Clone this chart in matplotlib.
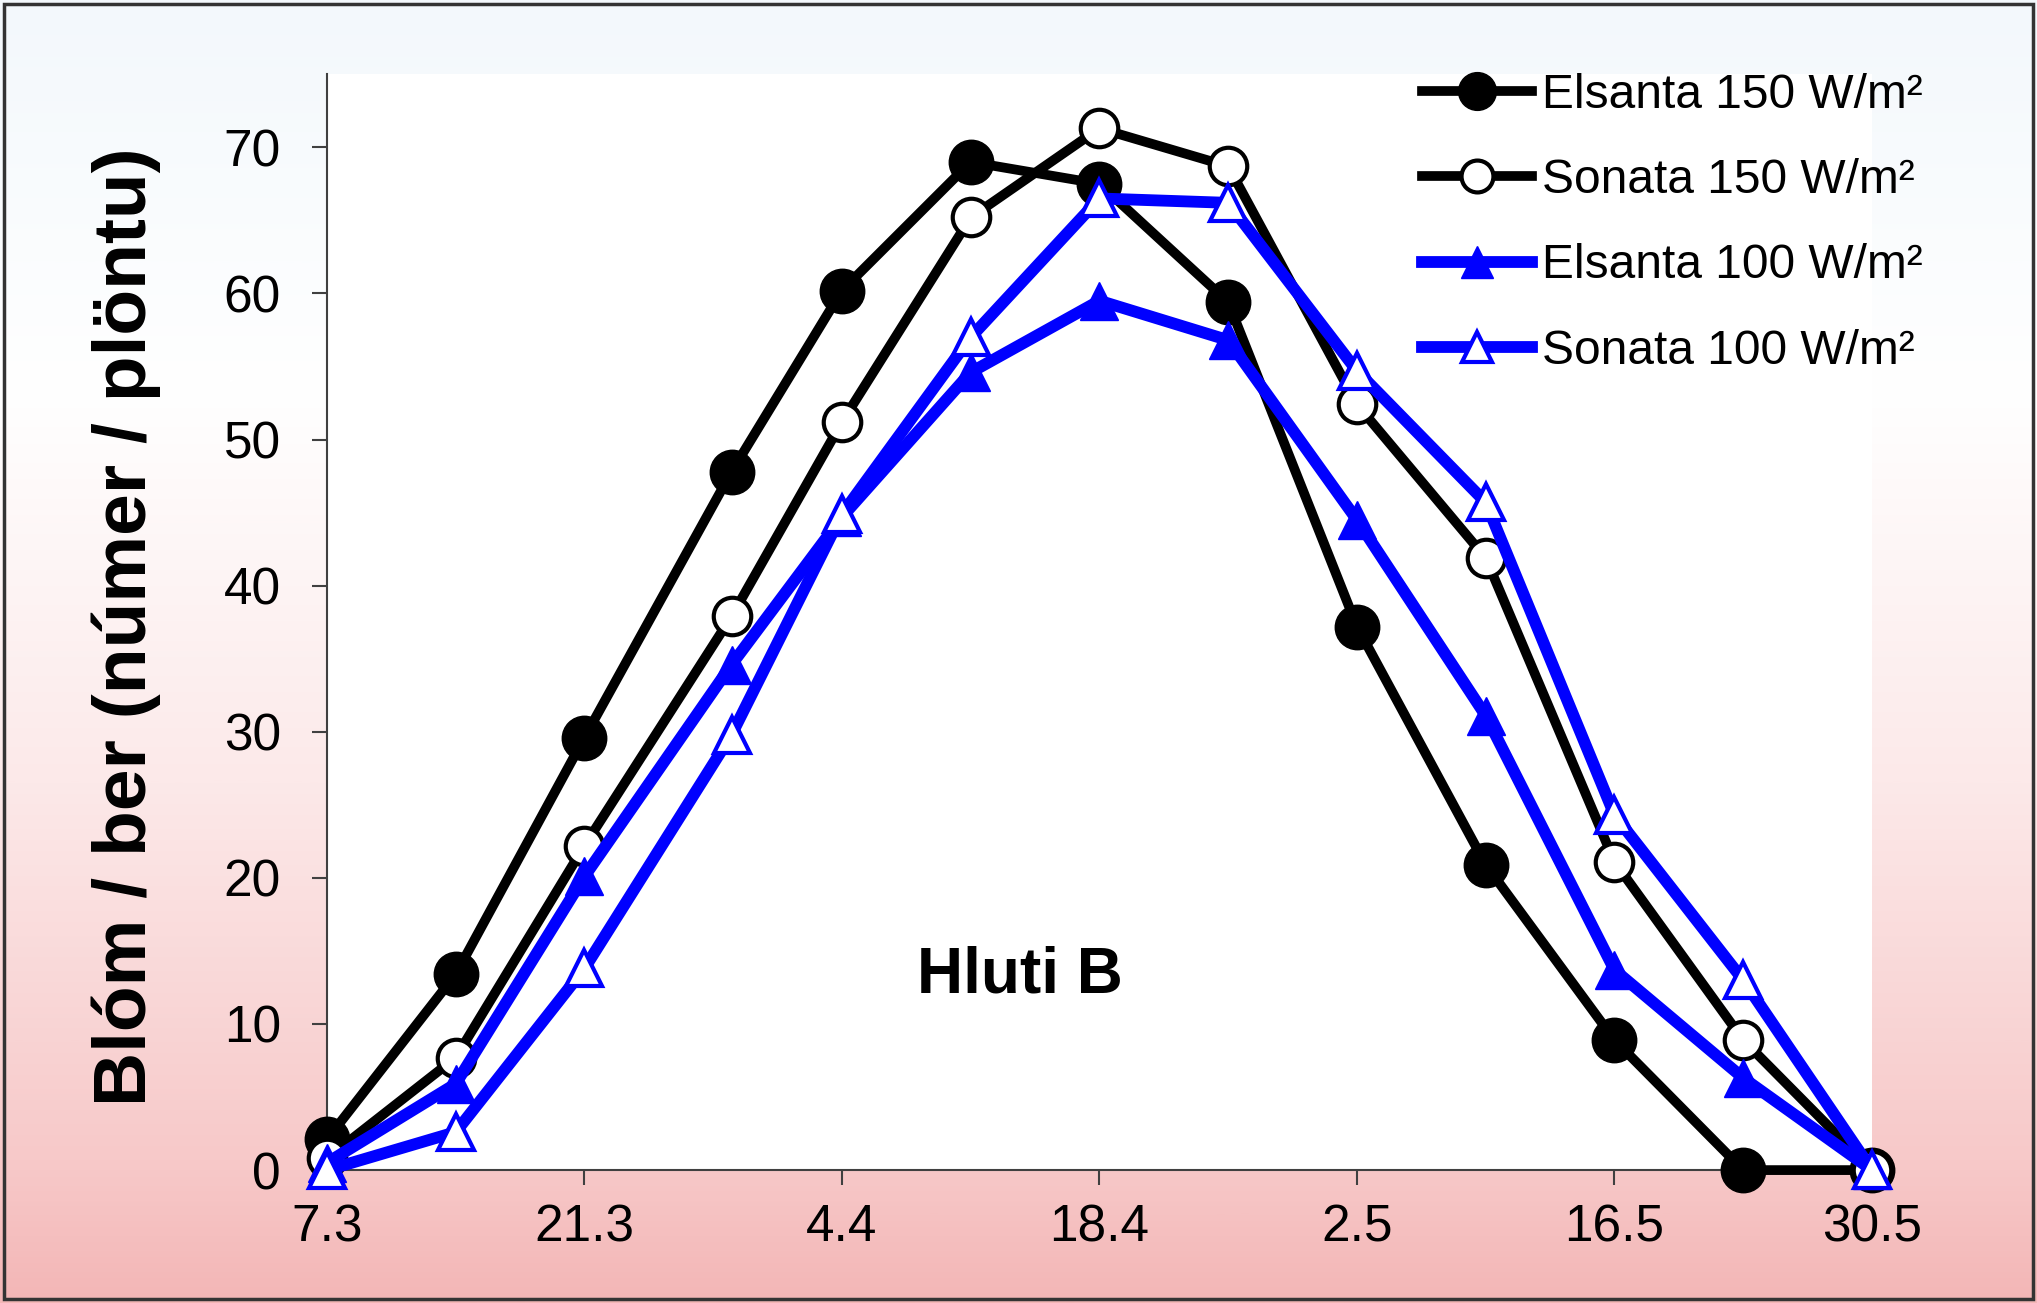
import numpy as np
import matplotlib
matplotlib.use('Agg')
import matplotlib.pyplot as plt
from matplotlib.colors import LinearSegmentedColormap
from matplotlib.patches import Rectangle

plt.rcParams['font.family'] = ['Liberation Sans', 'DejaVu Sans']

# gildi lesin af myndinni; x er dagsetningaás (dagar frá 7.3)
sample_days = [0, 7, 14, 22, 28, 35, 42, 49, 56, 63, 70, 77, 84]
tick_days = [0, 14, 28, 42, 56, 70, 84]
x_labels = ['7.3', '21.3', '4.4', '18.4', '2.5', '16.5', '30.5']
elsanta_150 = [2.1, 13.4, 29.6, 47.8, 60.2, 69.0, 67.5, 59.4, 37.2, 20.9, 8.9, 0, 0]
sonata_150 = [0.8, 7.7, 22.2, 37.9, 51.2, 65.2, 71.3, 68.7, 52.4, 41.9, 21.1, 8.9, 0]
elsanta_100 = [0.5, 5.9, 20.1, 34.6, 44.7, 54.6, 59.5, 56.8, 44.5, 31.1, 13.7, 6.3, 0]
sonata_100 = [0, 2.6, 13.8, 29.8, 44.9, 57.0, 66.5, 66.2, 54.7, 45.7, 24.3, 13.0, 0]
series_names = ['Elsanta 150 W/m²', 'Sonata 150 W/m²', 'Elsanta 100 W/m²', 'Sonata 100 W/m²']

fig = plt.figure(figsize=(20.37, 13.03), dpi=100)

# bakgrunnur með litaskiptum
bg = fig.add_axes([0, 0, 1, 1], zorder=-10)
cmap = LinearSegmentedColormap.from_list('bg', [(0, '#F3F8FC'), (0.3, '#FFFFFF'), (0.6, '#FCE9E9'),
                                                (0.9, '#F7C8C8'), (1, '#F3B6B6')])
grad = np.linspace(0, 1, 512).reshape(-1, 1)
bg.imshow(grad, aspect='auto', cmap=cmap)
bg.axis('off')
fig.add_artist(Rectangle((0.002, 0.003), 0.996, 0.994, transform=fig.transFigure,
                         fill=False, lw=2.5, ec='#333333', zorder=10))

ax = fig.add_axes([0.1605, 0.102, 0.7585, 0.841])
ax.set_facecolor('white')

blue = '#0000FF'
ax.plot(sample_days, elsanta_150, color='black', lw=7, marker='o', ms=32, mfc='black', mec='black',
        mew=1, clip_on=False, label=series_names[0], zorder=3)
ax.plot(sample_days, sonata_150, color='black', lw=7, marker='o', ms=27, mfc='white', mec='black',
        mew=3, clip_on=False, label=series_names[1], zorder=4)
ax.plot(sample_days, elsanta_100, color=blue, lw=8.5, marker='^', ms=27, mfc=blue, mec=blue,
        mew=1, clip_on=False, label=series_names[2], zorder=5)
ax.plot(sample_days, sonata_100, color=blue, lw=8.5, marker='^', ms=26, mfc='white', mec=blue,
        mew=3, clip_on=False, label=series_names[3], zorder=6)

ax.set_xlim(tick_days[0], tick_days[-1])
ax.set_ylim(0, 75)
ax.set_yticks(range(0, 71, 10))
ax.set_xticks(tick_days)
ax.set_xticklabels(x_labels)
for s in ['top', 'right']:
    ax.spines[s].set_visible(False)
for s in ['left', 'bottom']:
    ax.spines[s].set_color('#404040')
    ax.spines[s].set_linewidth(1.5)
ax.tick_params(direction='out', length=11, width=1.5, color='#404040', labelsize=37)
ax.tick_params(axis='y', pad=22)
ax.tick_params(axis='x', pad=13)

ax.text(37.7, 13.3, 'Hluti B', fontsize=46, fontweight='bold', ha='center', va='center')
fig.text(0.062, 0.519, 'Blóm / ber (númer / plöntu)', rotation=90, fontsize=54,
         fontweight='bold', ha='center', va='center')

ax.legend(loc='upper left', bbox_to_anchor=(0.698, 0.944), bbox_transform=fig.transFigure,
          frameon=False, fontsize=34.5, handlelength=2.3, handletextpad=0.2, labelspacing=0.84,
          borderpad=0, borderaxespad=0, markerscale=0.85)

fig.savefig('out.png', dpi=100)
